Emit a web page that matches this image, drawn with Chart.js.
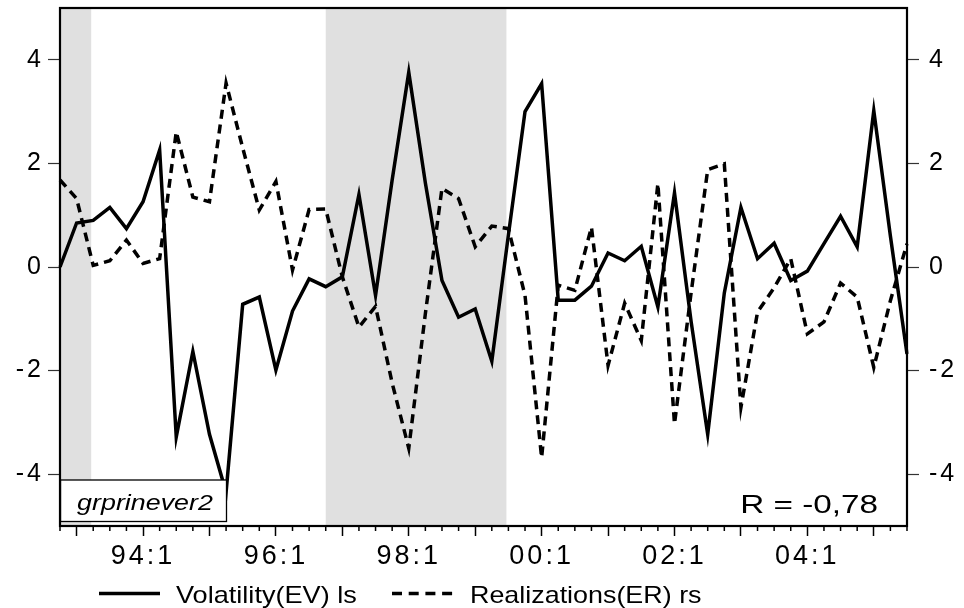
<!DOCTYPE html>
<html>
<head>
<meta charset="utf-8">
<script src="https://cdn.jsdelivr.net/npm/chart.js@4.4.1/dist/chart.umd.min.js"></script>
<style>
  html, body { margin: 0; padding: 0; background: #fff; }
  canvas { display: block; }
</style>
</head>
<body>
<canvas id="volChart" width="964" height="608"></canvas>
<script>
// quarterly observations, 1992Q4 - 2005Q3
const quarters = [
  '92:4',
  '93:1', '93:2', '93:3', '93:4',
  '94:1', '94:2', '94:3', '94:4',
  '95:1', '95:2', '95:3', '95:4',
  '96:1', '96:2', '96:3', '96:4',
  '97:1', '97:2', '97:3', '97:4',
  '98:1', '98:2', '98:3', '98:4',
  '99:1', '99:2', '99:3', '99:4',
  '00:1', '00:2', '00:3', '00:4',
  '01:1', '01:2', '01:3', '01:4',
  '02:1', '02:2', '02:3', '02:4',
  '03:1', '03:2', '03:3', '03:4',
  '04:1', '04:2', '04:3', '04:4',
  '05:1', '05:2', '05:3'
];

// Volatility(EV), left scale
const volatility = [
  0.00, 0.85, 0.90, 1.15, 0.74, 1.26, 2.26, -3.28,
  -1.63, -3.23, -4.35, -0.72, -0.58, -1.99, -0.85, -0.23,
  -0.38, -0.19, 1.40, -0.55, 1.68, 3.76, 1.62, -0.26,
  -0.97, -0.81, -1.82, 0.62, 3.00, 3.54, -0.64, -0.64,
  -0.37, 0.27, 0.12, 0.40, -0.77, 1.43, -1.05, -3.23,
  -0.50, 1.15, 0.16, 0.46, -0.26, -0.08, 0.45, 0.98,
  0.39, 3.02, 0.60, -1.68
];

// Realizations(ER), right scale
const realizations = [
  1.68, 1.32, 0.03, 0.12, 0.52, 0.07, 0.16, 2.61,
  1.35, 1.26, 3.55, 2.30, 1.10, 1.65, -0.06, 1.11,
  1.12, -0.19, -1.16, -0.76, -2.24, -3.50, -0.90, 1.52,
  1.32, 0.39, 0.79, 0.74, -0.55, -3.68, -0.35, -0.45,
  0.77, -1.90, -0.70, -1.42, 1.61, -3.03, -0.50, 1.88,
  1.99, -2.71, -0.87, -0.40, 0.16, -1.29, -1.06, -0.31,
  -0.58, -1.94, -0.65, 0.45
];

const tickLabels = ['94:1', '96:1', '98:1', '00:1', '02:1', '04:1'];
const axisTicks = [-4, -2, 0, 2, 4];
const shadedPeriods = [['92:4', '93:2'], ['96:4', '99:3']];
const graphName = 'grprinever2';
const corrText = 'R = -0,78';

const FONT = "'Liberation Sans', Arial, sans-serif";

const isYearStart = (i) => quarters[i] && quarters[i].endsWith(':1');

// EViews text comes out horizontally stretched, so draw ours the same way
function wideText(ctx, text, x, y, sx, align) {
  ctx.save();
  ctx.textAlign = align || 'left';
  ctx.scale(sx, 1);
  ctx.fillText(text, x / sx, y);
  ctx.restore();
}

const eviewsDecor = {
  id: 'eviewsDecor',
  beforeDraw(chart) {
    // wider spacing for the axis numerals
    chart.ctx.letterSpacing = '3px';
  },
  beforeDatasetsDraw(chart) {
    const { ctx, chartArea: ca, scales: { x } } = chart;
    ctx.letterSpacing = '0px';
    ctx.save();
    ctx.fillStyle = '#e0e0e0';
    shadedPeriods.forEach(([a, b]) => {
      const x0 = x.getPixelForValue(quarters.indexOf(a));
      const x1 = x.getPixelForValue(quarters.indexOf(b)) - 2;
      ctx.fillRect(x0, ca.top, x1 - x0, ca.height);
    });
    ctx.restore();
  },
  afterDatasetsDraw(chart) {
    const { ctx, chartArea: ca, scales: { x } } = chart;
    ctx.save();

    // name box, bottom left
    ctx.fillStyle = '#fff';
    ctx.strokeStyle = '#000';
    ctx.lineWidth = 1.3;
    ctx.fillRect(ca.left + 0.5, ca.bottom - 46, 166, 41.5);
    ctx.strokeRect(ca.left + 0.5, ca.bottom - 46, 166, 41.5);
    ctx.fillStyle = '#000';
    ctx.textBaseline = 'alphabetic';
    ctx.font = `italic 22px ${FONT}`;
    wideText(ctx, graphName, ca.left + 85, ca.bottom - 16.5, 1.22, 'center');

    // correlation
    ctx.font = `26px ${FONT}`;
    wideText(ctx, corrText, ca.right - 29, ca.bottom - 13.3, 1.28, 'right');

    // frame
    ctx.lineWidth = 2.2;
    ctx.strokeRect(ca.left, ca.top, ca.width, ca.height);

    // short quarter ticks
    ctx.lineWidth = 1.5;
    ctx.beginPath();
    quarters.forEach((q, i) => {
      if (isYearStart(i)) return;
      const px = x.getPixelForTick(i);
      ctx.moveTo(px, ca.bottom);
      ctx.lineTo(px, ca.bottom + 5);
    });
    ctx.stroke();
    ctx.restore();
  },
  afterDraw(chart) {
    const { ctx } = chart;
    const ds = chart.data.datasets;
    ctx.save();
    ctx.letterSpacing = '0px';
    ctx.strokeStyle = '#000';
    ctx.fillStyle = '#000';
    ctx.lineWidth = 3.4;
    ctx.font = `24px ${FONT}`;
    ctx.textBaseline = 'alphabetic';

    ctx.beginPath();
    ctx.moveTo(99, 593.5);
    ctx.lineTo(160, 593.5);
    ctx.stroke();
    wideText(ctx, ds[0].label, 176, 603, 1.13);

    ctx.setLineDash([10, 6.7]);
    ctx.beginPath();
    ctx.moveTo(392, 593.5);
    ctx.lineTo(455, 593.5);
    ctx.stroke();
    ctx.setLineDash([]);
    wideText(ctx, ds[1].label, 470, 603, 1.12);
    ctx.restore();
  }
};

const yAxis = (position, padding, width) => ({
  position,
  min: -5,
  max: 5,
  afterBuildTicks: (s) => { s.ticks = axisTicks.map(v => ({ value: v })); },
  afterFit: (s) => {
    s.width = width;
    s.paddingTop = 0;
    s.paddingBottom = 0;
  },
  border: { display: false },
  grid: { drawOnChartArea: false, drawTicks: true, tickLength: 12, tickWidth: 1.2, tickColor: '#333' },
  ticks: {
    color: '#000',
    padding,
    font: { family: FONT, size: 25 },
    callback: (v) => String(v)
  }
});

const ctx = document.getElementById('volChart').getContext('2d');
new Chart(ctx, {
  type: 'line',
  data: {
    labels: quarters,
    datasets: [
      {
        label: 'Volatility(EV) ls',
        data: volatility,
        yAxisID: 'y',
        borderColor: '#000',
        borderWidth: 3.5,
        pointRadius: 0,
        tension: 0,
        fill: false
      },
      {
        label: 'Realizations(ER) rs',
        data: realizations,
        yAxisID: 'y1',
        borderColor: '#000',
        borderWidth: 3.5,
        borderDash: [9, 6],
        pointRadius: 0,
        tension: 0,
        fill: false
      }
    ]
  },
  options: {
    responsive: false,
    animation: false,
    layout: { padding: { top: 8, bottom: 37, left: 0, right: 0 } },
    plugins: {
      legend: { display: false },
      tooltip: { enabled: false }
    },
    scales: {
      x: {
        offset: false,
        afterFit: (s) => {
          s.height = 45;
          s.paddingLeft = 0;
          s.paddingRight = 0;
        },
        border: { display: false },
        grid: {
          drawOnChartArea: false,
          drawTicks: true,
          tickLength: 10,
          tickWidth: 1.5,
          tickColor: (c) => isYearStart(c.index) ? '#000' : 'rgba(0,0,0,0)'
        },
        ticks: {
          autoSkip: false,
          maxRotation: 0,
          color: '#000',
          padding: 4,
          font: { family: FONT, size: 27 },
          callback: (v, i) => tickLabels.includes(quarters[i]) ? quarters[i] : ''
        }
      },
      y: yAxis('left', 4, 60),
      y1: yAxis('right', 10, 57)
    }
  },
  plugins: [eviewsDecor]
});
</script>
</body>
</html>
